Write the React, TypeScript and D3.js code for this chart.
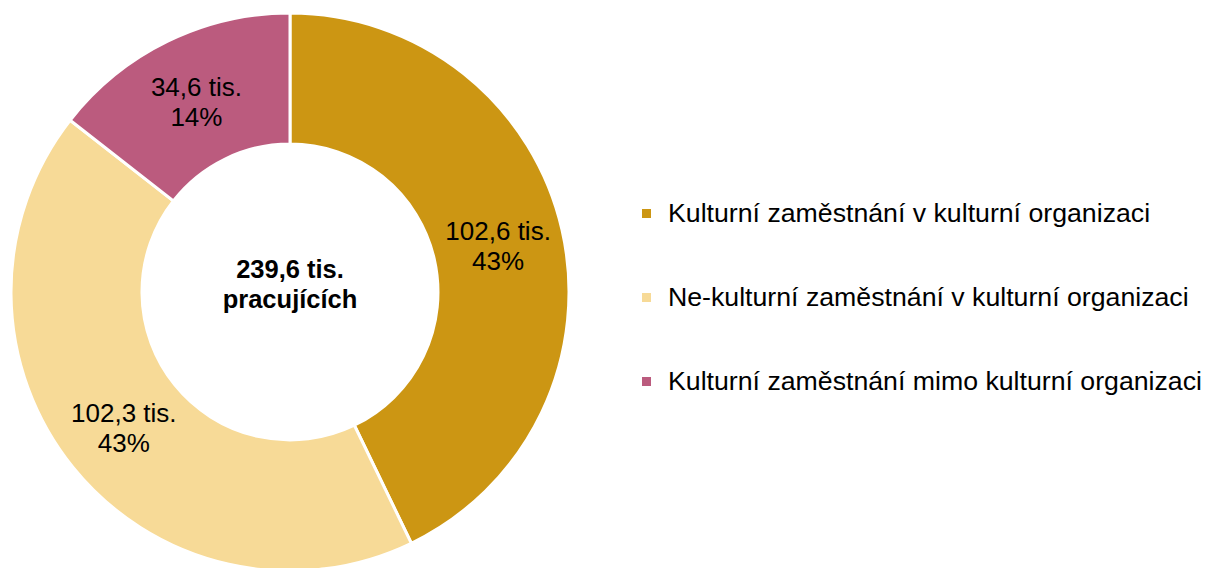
import React from "react";
import * as d3 from "d3";

const categories = [
  "Kulturní zaměstnání v kulturní organizaci",
  "Ne-kulturní zaměstnání v kulturní organizaci",
  "Kulturní zaměstnání mimo kulturní organizaci",
];
const values = [102.6, 102.3, 34.6];
const valueLabels = ["102,6 tis.", "102,3 tis.", "34,6 tis."];
const percentLabels = ["43%", "43%", "14%"];
const colors = ["#CC9613", "#F7DA97", "#BB5B7E"];
const centerLines = ["239,6 tis.", "pracujících"];

const W = 1206;
const H = 568;
const cx = 290;
const cy = 292;
const outerR = 279;
const innerR = 148;
const font = "'Liberation Sans', Arial, sans-serif";

export default function App() {
  const pie = d3.pie<number>().sort(null).value((d) => d);
  const arcs = pie(values);
  const arc = d3.arc<d3.PieArcDatum<number>>().innerRadius(innerR).outerRadius(outerR);
  const legendY = [212, 296, 380];
  return (
    <svg width={W} height={H} style={{ position: "absolute", left: 0, top: 0, background: "#fff" }}>
      <g transform={`translate(${cx},${cy})`}>
        {arcs.map((a, i) => (
          <path key={i} d={arc(a) || ""} fill={colors[i]} stroke="#fff" strokeWidth={3} />
        ))}
        {arcs.map((a, i) => {
          const [x, y] = arc.centroid(a);
          return (
            <text key={i} textAnchor="middle" fontFamily={font} fontSize={26} fill="#000">
              <tspan x={x} y={y - 4}>{valueLabels[i]}</tspan>
              <tspan x={x} y={y + 26}>{percentLabels[i]}</tspan>
            </text>
          );
        })}
        <text textAnchor="middle" fontFamily={font} fontSize={25.5} fontWeight="bold" fill="#000">
          <tspan x={0} y={-14}>{centerLines[0]}</tspan>
          <tspan x={0} y={16}>{centerLines[1]}</tspan>
        </text>
      </g>
      {categories.map((c, i) => (
        <g key={i} transform={`translate(642,${legendY[i]})`}>
          <rect x={0} y={-3} width={9} height={9} fill={colors[i]} />
          <text x={26} y={10} fontFamily={font} fontSize={26.7} fill="#000">{c}</text>
        </g>
      ))}
    </svg>
  );
}
